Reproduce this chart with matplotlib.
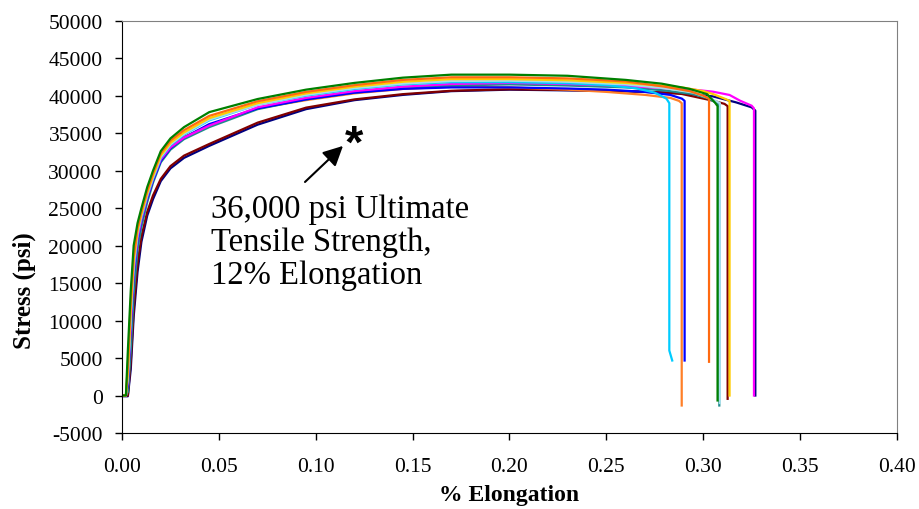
import matplotlib.pyplot as plt
from matplotlib.ticker import FormatStrFormatter

# strain samples shared by every specimen up to 0.23
strain_head = [0.000, 0.002, 0.003, 0.0045, 0.006, 0.008, 0.010, 0.013, 0.016, 0.020,
               0.025, 0.032, 0.045, 0.070, 0.095, 0.120, 0.145, 0.170, 0.200, 0.230]

# stress (psi) at strain_head, then each specimen's own tail up to fracture
navy_s = [-100, -100, -100, 3500, 10500, 16500, 20500, 24000, 26200, 28600,
          30300, 31700, 33300, 36130, 38200, 39400, 40100, 40600, 40800, 40700,
          40600, 40400, 40300, 39900, 39100, 38440, 38000, 0]
navy_e = [0.260, 0.280, 0.290, 0.305, 0.317, 0.325, 0.3269, 0.3269]

maroon_s = [0, 0, 0, 4500, 11500, 17500, 21200, 24500, 26700, 28900,
            30600, 32000, 33550, 36400, 38400, 39500, 40200, 40650, 40850, 40750,
            40600, 40400, 40220, 39330, 38900, 38600, -440]
maroon_e = [0.260, 0.280, 0.289, 0.305, 0.311, 0.3126, 0.3126]

orange1_s = [0, 0, 1000, 8000, 15500, 20500, 23200, 26300, 28700, 31400,
             33100, 34500, 36000, 38300, 39400, 40300, 40900, 41200, 41100, 40800,
             40500, 40100, 39700, 39300, 39000, -1330]
orange1_e = [0.250, 0.270, 0.283, 0.2875, 0.2889, 0.2889]

teal_s = [0, 0, 500, 6000, 13500, 19500, 22500, 25800, 28400, 31100,
          32800, 34200, 35800, 38200, 39500, 40400, 41000, 41350, 41500, 41350,
          41100, 40700, 40200, 39600, 38900, 38500, -1330]
teal_e = [0.260, 0.280, 0.295, 0.303, 0.3075, 0.3083, 0.3083]

blue_s = [0, 0, 1500, 9000, 16000, 20800, 23300, 26300, 28700, 31300,
          33000, 34400, 36200, 38300, 39500, 40400, 40900, 41100, 41100, 40950,
          40800, 40500, 40100, 39600, 39300, 4670]
blue_e = [0.250, 0.270, 0.283, 0.289, 0.2904, 0.2904]

magenta_s = [0, 0, 2000, 9500, 16500, 21000, 23500, 26500, 28900, 31500,
             33100, 34400, 36000, 38450, 39700, 40600, 41200, 41550, 41700, 41550,
             41300, 41000, 40800, 40530, 40090, 39330, 38660, 38300, 0]
magenta_e = [0.260, 0.280, 0.295, 0.305, 0.3136, 0.319, 0.325, 0.3262, 0.3262]

cyan_s = [0, 0, 2500, 10500, 17000, 21500, 23800, 26700, 29000, 31700,
          33400, 34800, 36700, 38800, 40000, 40900, 41500, 41800, 41800, 41650,
          41400, 41000, 40400, 39600, 39000, 6000, 4670]
cyan_e = [0.250, 0.265, 0.275, 0.281, 0.2825, 0.2825, 0.284]

light_s = [0, 0, 2500, 11000, 17500, 21700, 24000, 26800, 29100, 31800,
           33500, 34900, 36800, 38800, 40100, 41000, 41600, 41950, 42000, 41850,
           41500, 41000, 40400, 39500, 39000, -1000]
light_e = [0.260, 0.280, 0.295, 0.305, 0.3086, 0.3086]

gold_s = [0, 0, 3000, 11500, 18000, 22000, 24200, 27000, 29300, 32000,
          33700, 35100, 37000, 39000, 40300, 41200, 41850, 42200, 42200, 42050,
          41700, 41300, 41100, 40600, 40220, 39550, 39300, 0]
gold_e = [0.260, 0.280, 0.289, 0.300, 0.305, 0.3115, 0.3136, 0.3136]

orange2_s = [0, 0, 4000, 12500, 18500, 22300, 24500, 27300, 29600, 32300,
             34000, 35400, 37300, 39250, 40500, 41400, 42100, 42450, 42450, 42300,
             41900, 41200, 40600, 40000, 39600, 4500]
orange2_e = [0.260, 0.280, 0.293, 0.300, 0.303, 0.303]

green_s = [0, 0, 6000, 14000, 20000, 23000, 25000, 27800, 30000, 32600,
           34300, 35800, 37800, 39550, 40800, 41700, 42400, 42800, 42800, 42650,
           42100, 41600, 40900, 40200, 39100, 38600, -660]
green_e = [0.260, 0.2785, 0.293, 0.302, 0.306, 0.3074, 0.3074]

specimens = [
    (navy_e, navy_s, '#000080'),
    (maroon_e, maroon_s, '#800000'),
    (orange1_e, orange1_s, '#FF7F27'),
    (teal_e, teal_s, '#1E8C8C'),
    (blue_e, blue_s, '#0000FF'),
    (magenta_e, magenta_s, '#FF00FF'),
    (cyan_e, cyan_s, '#00CCFF'),
    (light_e, light_s, '#A6DDE8'),
    (gold_e, gold_s, '#FFCC00'),
    (orange2_e, orange2_s, '#FF6A10'),
    (green_e, green_s, '#008000'),
]

plt.rcParams['font.family'] = ['Liberation Serif', 'DejaVu Serif']
plt.rcParams['axes.unicode_minus'] = False

fig = plt.figure(figsize=(9.19, 5.10), dpi=100)
ax = fig.add_axes([0.1328, 0.149, 0.8432, 0.8085])

for tail_e, stress, color in specimens:
    ax.plot(strain_head + tail_e, stress, color=color, lw=1.6)

ax.set_xlim(0, 0.40)
ax.set_ylim(-5000, 50000)
ax.set_xticks([0.00, 0.05, 0.10, 0.15, 0.20, 0.25, 0.30, 0.35, 0.40])
ax.set_yticks(range(-5000, 50001, 5000))
ax.xaxis.set_major_formatter(FormatStrFormatter('%.2f'))
ax.tick_params(labelsize=15.5, length=5, width=1, direction='out', pad=9)
ax.tick_params(axis='x', pad=12)

for side in ['top', 'right']:
    ax.spines[side].set_color('#808080')
for side in ['left', 'bottom']:
    ax.spines[side].set_color('black')

ax.set_xlabel('% Elongation', fontsize=17, fontweight='bold', labelpad=6)
fig.text(24 / 919, 1 - 291 / 510, 'Stress (psi)', rotation=90, fontsize=18,
         fontweight='bold', ha='center', va='center')

# annotation
ax.annotate('', xy=(0.1151, 33550), xytext=(0.0934, 28230),
            arrowprops=dict(arrowstyle='-|>', color='black', lw=1.5, mutation_scale=30))
ax.text(0.1197, 33420, '*', fontsize=34, fontweight='bold', ha='center', va='center',
        family='Liberation Sans')
ax.text(0.0459, 20490, '36,000 psi Ultimate\nTensile Strength,\n12% Elongation',
        fontsize=23.5, ha='left', va='center', linespacing=1.1)

fig.savefig('out.png', dpi=100)
